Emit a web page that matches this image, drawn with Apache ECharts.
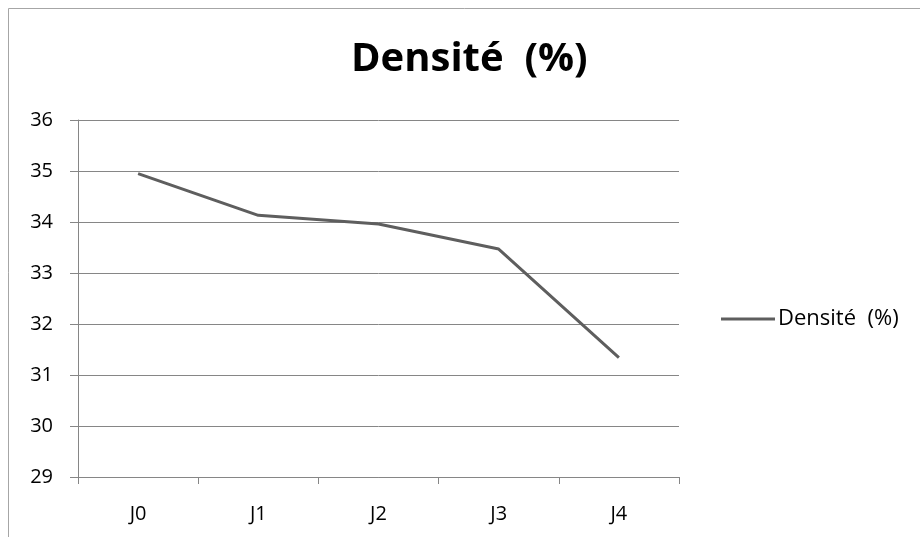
<!DOCTYPE html>
<html>
<head>
<meta charset="utf-8">
<script src="https://cdn.jsdelivr.net/npm/echarts@6/dist/echarts.min.js"></script>
<style>
  html, body { margin: 0; padding: 0; background: #fff; }
  #chart { width: 920px; height: 537px; }
</style>
</head>
<body>
<div id="chart"></div>
<script>
// Density measured on each day
const days = ['J0', 'J1', 'J2', 'J3', 'J4'];
const densite = [34.95, 34.13, 33.96, 33.47, 31.34];
const seriesName = 'Densité  (%)';
const yMin = 29, yMax = 36, yStep = 1;

const chart = echarts.init(document.getElementById('chart'));
const FONT = '"Open Sans", Lato, sans-serif';

chart.setOption({
  animation: false,
  backgroundColor: '#ffffff',
  title: {
    text: 'Densité  (%)',
    left: 346,
    top: 35,
    textStyle: { fontFamily: FONT, fontWeight: 'bold', fontSize: 40, color: '#000' }
  },
  legend: {
    data: [seriesName],
    left: 716,
    top: 303,
    itemWidth: 54,
    itemHeight: 3,
    itemGap: 4,
    icon: 'rect',
    textStyle: { fontFamily: FONT, fontSize: 22, color: '#000', padding: [0, 0, 0, -2] }
  },
  grid: { left: 78, right: 241, top: 120, bottom: 60 },
  xAxis: {
    type: 'category',
    data: days,
    boundaryGap: true,
    axisLine: { lineStyle: { color: '#868686', width: 1 } },
    axisTick: { show: true, length: 7, alignWithLabel: false, lineStyle: { color: '#868686' } },
    axisLabel: { fontFamily: FONT, fontSize: 20, color: '#000', margin: 27 }
  },
  yAxis: {
    type: 'value',
    min: yMin,
    max: yMax,
    interval: yStep,
    axisLine: { show: true, lineStyle: { color: '#868686', width: 1 } },
    axisTick: { show: true, length: 8, lineStyle: { color: '#868686' } },
    splitLine: { lineStyle: { color: '#868686', width: 1 } },
    axisLabel: { fontFamily: FONT, fontSize: 20, color: '#000', margin: 25 }
  },
  graphic: [
    { type: 'line', shape: { x1: 8.5, y1: 8.5, x2: 920, y2: 8.5 }, style: { stroke: '#a6a6a6', lineWidth: 1 } },
    { type: 'line', shape: { x1: 8.5, y1: 8.5, x2: 8.5, y2: 537 }, style: { stroke: '#a6a6a6', lineWidth: 1 } }
  ],
  series: [{
    name: seriesName,
    type: 'line',
    data: densite,
    symbol: 'none',
    lineStyle: { color: '#5e5e5e', width: 3 },
    itemStyle: { color: '#5e5e5e' }
  }]
});
</script>
</body>
</html>
